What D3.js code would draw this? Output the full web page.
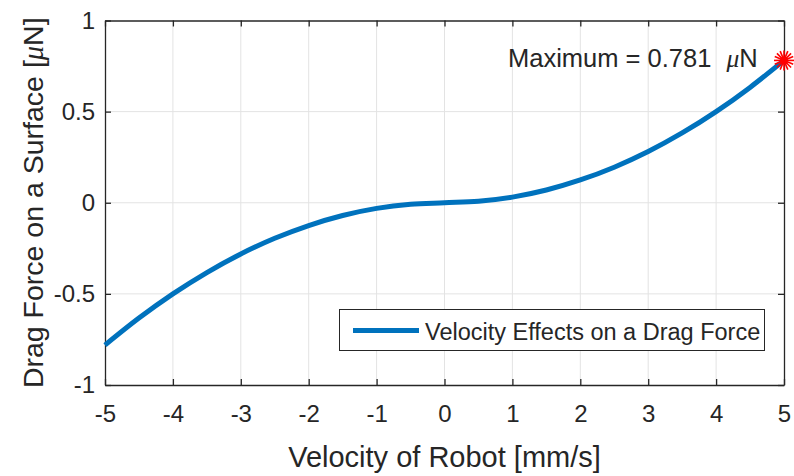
<!DOCTYPE html>
<html>
<head>
<meta charset="utf-8">
<script src="https://cdn.jsdelivr.net/npm/d3@7"></script>
<style>
  html, body { margin: 0; padding: 0; background: #fff; }
  svg text { font-family: "Liberation Sans", Arial, Helvetica, sans-serif; fill: #262626; }
</style>
</head>
<body>
<svg id="chart" width="794" height="476"></svg>
<script>
// Velocity (mm/s) and resulting drag force (µN)
const velocity = [-5, -4.5, -4, -3.5, -3, -2.5, -2, -1.5, -1, -0.5, 0,
                  0.5, 1, 1.5, 2, 2.5, 3, 3.5, 4, 4.5, 5];
const dragForce = [-0.781, -0.633, -0.500, -0.383, -0.281, -0.195, -0.125, -0.070, -0.031, -0.008, 0,
                   0.008, 0.031, 0.070, 0.125, 0.195, 0.281, 0.383, 0.500, 0.633, 0.781];
const xTicks = [-5, -4, -3, -2, -1, 0, 1, 2, 3, 4, 5];
const yTicks = [-1, -0.5, 0, 0.5, 1];
const maxPoint = { x: 5, y: 0.781 };
const seriesName = "Velocity Effects on a Drag Force";

const svg = d3.select("#chart");
const plotL = 105, plotR = 784, plotT = 20.5, plotB = 385;

const x = d3.scaleLinear().domain([-5, 5]).range([plotL, plotR]);
const y = d3.scaleLinear().domain([-1, 1]).range([plotB, plotT]);

const axisColor = "#262626";
const gridColor = "#e3e3e3";
const tickFont = 24;

// grid
const grid = svg.append("g");
grid.selectAll(".gx").data(xTicks.slice(1, -1)).join("line")
  .attr("x1", d => x(d)).attr("x2", d => x(d))
  .attr("y1", plotT).attr("y2", plotB)
  .attr("stroke", gridColor).attr("stroke-width", 1);
grid.selectAll(".gy").data(yTicks.slice(1, -1)).join("line")
  .attr("y1", d => y(d)).attr("y2", d => y(d))
  .attr("x1", plotL).attr("x2", plotR)
  .attr("stroke", gridColor).attr("stroke-width", 1);

// axes with inward ticks
const tickLen = 6;
const fmt = d => (d < 0 ? "-" + Math.abs(d) : String(d));
const xAxisB = d3.axisBottom(x).tickValues(xTicks).tickSizeInner(-tickLen).tickSizeOuter(0).tickPadding(20).tickFormat(fmt);
const xAxisT = d3.axisTop(x).tickValues(xTicks).tickSizeInner(-tickLen).tickSizeOuter(0).tickFormat("");
const yAxisL = d3.axisLeft(y).tickValues(yTicks).tickSizeInner(-tickLen).tickSizeOuter(0).tickPadding(10).tickFormat(fmt);
const yAxisR = d3.axisRight(y).tickValues(yTicks).tickSizeInner(-tickLen).tickSizeOuter(0).tickFormat("");

function styleAxis(g) {
  g.select(".domain").attr("stroke", axisColor).attr("stroke-width", 1.3);
  g.selectAll(".tick line").attr("stroke", axisColor).attr("stroke-width", 1.3);
  g.selectAll(".tick text").attr("font-size", tickFont).attr("fill", axisColor)
    .attr("font-family", "'Liberation Sans', Arial, sans-serif");
}
svg.append("g").attr("transform", `translate(0,${plotB})`).call(xAxisB).call(styleAxis);
svg.append("g").attr("transform", `translate(0,${plotT})`).call(xAxisT).call(styleAxis);
svg.append("g").attr("transform", `translate(${plotL},0)`).call(yAxisL).call(styleAxis);
svg.append("g").attr("transform", `translate(${plotR},0)`).call(yAxisR).call(styleAxis);

// curve
const pts = velocity.map((v, i) => [v, dragForce[i]]);
const line = d3.line().x(d => x(d[0])).y(d => y(d[1])).curve(d3.curveMonotoneX);
svg.append("path").datum(pts)
  .attr("d", line)
  .attr("fill", "none")
  .attr("stroke", "#0072BD")
  .attr("stroke-width", 5)
  .attr("stroke-linejoin", "round");

// maximum marker (asterisk burst)
const mx = x(maxPoint.x), my = y(maxPoint.y);
const star = svg.append("g").attr("transform", `translate(${mx},${my})`);
d3.range(0, 180, 22.5).forEach(a => {
  const r = 10, rad = a * Math.PI / 180;
  star.append("line")
    .attr("x1", -r * Math.cos(rad)).attr("y1", -r * Math.sin(rad))
    .attr("x2", r * Math.cos(rad)).attr("y2", r * Math.sin(rad))
    .attr("stroke", "#ff0000").attr("stroke-width", 1.6);
});
star.append("circle").attr("r", 4).attr("fill", "#ff0000");

// annotation
const ann = svg.append("text")
  .attr("x", 508).attr("y", 67)
  .attr("font-size", 25.5);
ann.append("tspan").text("Maximum = " + maxPoint.y.toFixed(3) + " ");
ann.append("tspan").attr("font-style", "italic").attr("font-family", "'Liberation Serif', 'Times New Roman', serif").attr("dx", 8).text("\u03bc");
ann.append("tspan").text("N");

// legend
const lg = svg.append("g");
lg.append("rect").attr("x", 339.5).attr("y", 309.5).attr("width", 425).attr("height", 41)
  .attr("fill", "#fff").attr("stroke", axisColor).attr("stroke-width", 1);
lg.append("line").attr("x1", 353).attr("x2", 419).attr("y1", 330.5).attr("y2", 330.5)
  .attr("stroke", "#0072BD").attr("stroke-width", 5);
lg.append("text").attr("x", 425).attr("y", 340).attr("font-size", 23.5).text(seriesName);

// axis titles
svg.append("text").attr("x", (plotL + plotR) / 2).attr("y", 467)
  .attr("text-anchor", "middle").attr("font-size", 29).text("Velocity of Robot [mm/s]");
const yl = svg.append("text")
  .attr("transform", `translate(43,${(plotT + plotB) / 2}) rotate(-90)`)
  .attr("text-anchor", "middle").attr("font-size", 28.5);
yl.append("tspan").text("Drag Force on a Surface [");
yl.append("tspan").attr("font-style", "italic").attr("font-family", "'Liberation Serif', 'Times New Roman', serif").text("\u03bc");
yl.append("tspan").text("N]");
</script>
</body>
</html>
